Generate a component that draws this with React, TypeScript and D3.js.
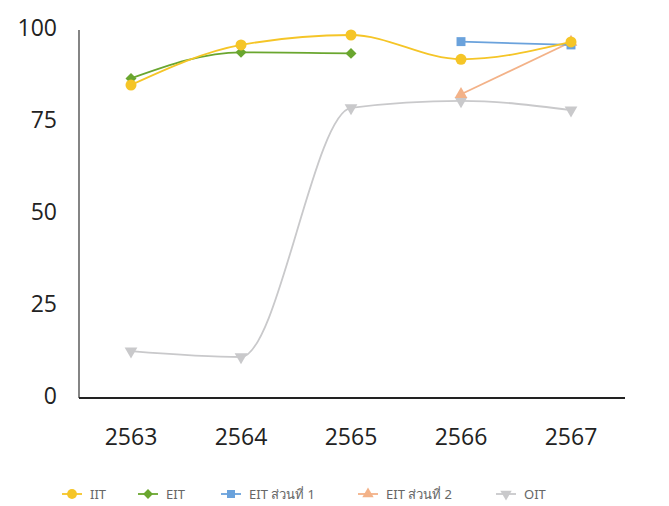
import React, { useEffect, useRef } from 'react';
import * as d3 from 'd3';

const years = ['2563', '2564', '2565', '2566', '2567'];
const yTicks = [0, 25, 50, 75, 100];

const iit = [84.5, 95.4, 98.1, 91.5, 96.2];
const eit = [86.3, 93.4, 93.1, null, null];
const eitPart1 = [null, null, null, 96.3, 95.4];
const eitPart2 = [null, null, null, 82.0, 96.2];
const oit = [12.2, 10.6, 78.3, 80.2, 77.7];

interface Series {
    name: string;
    values: (number | null)[];
    color: string;
    symbol: d3.SymbolType;
    size: number;
    rotate?: number;
}

const series: Series[] = [
    { name: 'IIT', values: iit, color: '#f5c527', symbol: d3.symbolCircle, size: 95 },
    { name: 'EIT', values: eit, color: '#6aa62f', symbol: d3.symbolSquare, size: 60, rotate: 45 },
    { name: 'EIT ส่วนที่ 1', values: eitPart1, color: '#6aa2dc', symbol: d3.symbolSquare, size: 80 },
    { name: 'EIT ส่วนที่ 2', values: eitPart2, color: '#f3b288', symbol: d3.symbolTriangle, size: 70 },
    { name: 'OIT', values: oit, color: '#c9c9cb', symbol: d3.symbolTriangle, size: 70, rotate: 180 },
];

const legendX = [72, 148, 231, 368, 506];

const App: React.FC = () => {
    const svgRef = useRef<SVGSVGElement>(null);

    useEffect(() => {
        if (!svgRef.current) return;
        const svg = d3.select(svgRef.current);
        svg.selectAll('*').remove();

        const x = d3.scaleBand<string>().domain(years).range([76, 626]);
        const y = d3.scaleLinear().domain([0, 100]).range([396, 28]);
        const cx = (d: string) => (x(d) as number) + x.bandwidth() / 2;

        // axes
        svg.append('line')
            .attr('x1', 79).attr('y1', 30).attr('x2', 79).attr('y2', 398)
            .attr('stroke', '#333').attr('stroke-width', 1.2);
        svg.append('line')
            .attr('x1', 79).attr('y1', 398).attr('x2', 625).attr('y2', 398)
            .attr('stroke', '#222').attr('stroke-width', 2);

        svg.append('g').selectAll('text').data(yTicks).join('text')
            .attr('x', 57)
            .attr('y', d => y(d))
            .attr('dy', '0.36em')
            .attr('text-anchor', 'end')
            .attr('font-family', 'Open Sans, sans-serif')
            .attr('font-size', 23)
            .attr('fill', '#222')
            .text(d => d);

        svg.append('g').selectAll('text').data(years).join('text')
            .attr('x', d => cx(d))
            .attr('y', 437)
            .attr('dy', '0.36em')
            .attr('text-anchor', 'middle')
            .attr('font-family', 'Open Sans, sans-serif')
            .attr('font-size', 23)
            .attr('fill', '#222')
            .text(d => d);

        const line = d3.line<[string, number | null]>()
            .defined(d => d[1] !== null)
            .x(d => cx(d[0]))
            .y(d => y(d[1] as number))
            .curve(d3.curveMonotoneX);

        series.slice().reverse().forEach(s => {
            const pts = years.map((yr, i) => [yr, s.values[i]] as [string, number | null]);
            const g = svg.append('g');
            g.append('path')
                .attr('d', line(pts))
                .attr('fill', 'none')
                .attr('stroke', s.color)
                .attr('stroke-width', 1.8);
            g.selectAll('path.m').data(pts.filter(p => p[1] !== null)).join('path')
                .attr('class', 'm')
                .attr('d', d3.symbol().type(s.symbol).size(s.size)())
                .attr('transform', p => `translate(${cx(p[0])},${y(p[1] as number)}) rotate(${s.rotate ?? 0})`)
                .attr('fill', s.color);
        });

        // legend
        const leg = svg.append('g');
        series.forEach((s, i) => {
            const lx = legendX[i];
            const ly = 494;
            leg.append('line')
                .attr('x1', lx - 10).attr('x2', lx + 10)
                .attr('y1', ly).attr('y2', ly)
                .attr('stroke', s.color).attr('stroke-width', 1.8);
            leg.append('path')
                .attr('d', d3.symbol().type(s.symbol).size(s.size * 0.8)())
                .attr('transform', `translate(${lx},${ly}) rotate(${s.rotate ?? 0})`)
                .attr('fill', s.color);
            leg.append('text')
                .attr('x', lx + 18)
                .attr('y', ly)
                .attr('dy', '0.35em')
                .attr('font-family', 'Noto Sans, sans-serif')
                .attr('font-size', 13)
                .attr('fill', '#666')
                .text(s.name);
        });
    }, []);

    return <svg ref={svgRef} width={669} height={506} style={{ display: 'block', position: 'absolute', left: 0, top: 0, background: '#fff' }} />;
};

export default App;
